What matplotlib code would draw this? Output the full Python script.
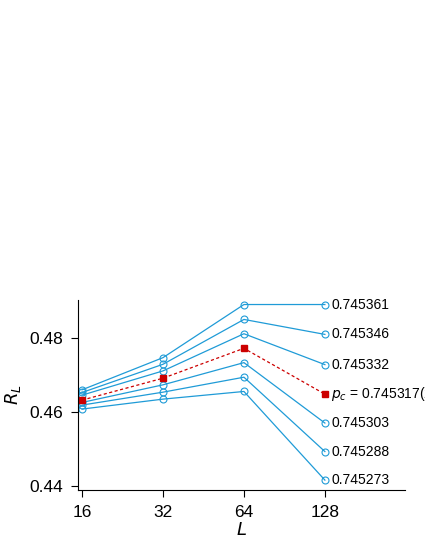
import numpy as np
import matplotlib
matplotlib.use("Agg")
import matplotlib.pyplot as plt

plt.rcParams['font.family'] = ['Liberation Sans', 'DejaVu Sans']

L = [16, 32, 64, 128]
p_labels = ["0.745361", "0.745346", "0.745332", "0.745303", "0.745288", "0.745273"]
R = [
    [0.46604, 0.47477, 0.48919, 0.48919],
    [0.46531, 0.47297, 0.48514, 0.48108],
    [0.46459, 0.47117, 0.48126, 0.47288],
    [0.46261, 0.46739, 0.47342, 0.45702],
    [0.46189, 0.46540, 0.46946, 0.44928],
    [0.46081, 0.46351, 0.46559, 0.44153],
]
R_pc = [0.46324, 0.46919, 0.47730, 0.46486]
pc_label = r"$p_c$ = 0.745317(25)"

blue = '#1f9bd7'
red = '#cc0000'

fig = plt.figure(figsize=(4.25, 5.5), dpi=100)
ax = fig.add_axes([0.1835, 0.109, 0.7695, 0.3455])
x = np.log2(L)
for vals, lab in zip(R, p_labels):
    ax.plot(x, vals, color=blue, lw=0.9, marker='o', ms=5, mfc='none', mec=blue, mew=0.8)
    ax.text(x[-1] + 0.08, vals[-1], lab, fontsize=10, va='center')
ax.plot(x, R_pc, color=red, lw=0.9, ls=(0, (2.5, 2)), marker='s', ms=5, mfc=red, mec=red)
ax.text(x[-1] + 0.08, R_pc[-1], pc_label, fontsize=10, va='center', clip_on=False)

ax.set_xlim(3.95, 7.99)
ax.set_ylim(0.43883, 0.49041)
ax.set_xticks(x)
ax.set_xticklabels([str(v) for v in L])
ax.set_yticks([0.44, 0.46, 0.48])
ax.set_yticklabels(["0.44", "0.46", "0.48"])
ax.tick_params(direction='out', labelsize=12.5, length=5, width=0.8, pad=6)
for s in ['top', 'right']:
    ax.spines[s].set_visible(False)
ax.set_xlabel(r"$L$", fontsize=13, labelpad=1)
ax.set_ylabel(r"$R_L$", fontsize=13, labelpad=4)

fig.savefig("out.png", dpi=100)
